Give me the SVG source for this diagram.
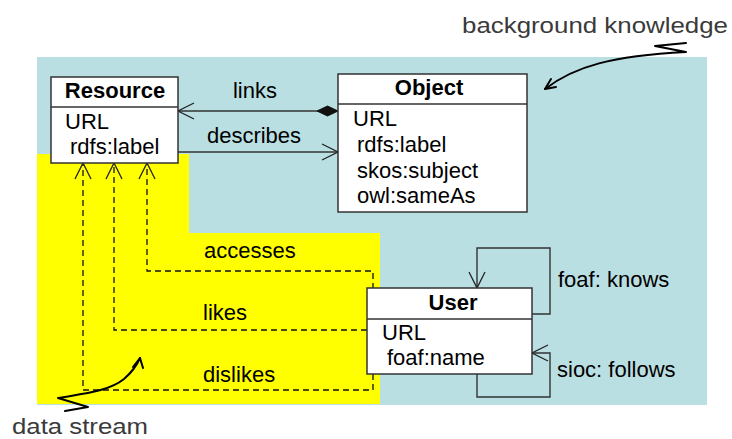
<svg xmlns="http://www.w3.org/2000/svg" width="732" height="439" viewBox="0 0 732 439">
<style>
text{font-family:"Liberation Sans",Arial,sans-serif;font-size:22px;fill:#000}
.b{font-weight:bold}
.note{fill:#3a3a3a;font-size:22px}
.box{fill:#fff;stroke:#333;stroke-width:1.5}
.conn{fill:none;stroke:#333;stroke-width:1.4}
.dash{fill:none;stroke:#111;stroke-width:1.3;stroke-dasharray:6,4}
.sq{fill:none;stroke:#000;stroke-width:2;stroke-linecap:round;stroke-linejoin:round}
</style>
<defs>
<marker id="arr" markerUnits="userSpaceOnUse" markerWidth="18" markerHeight="18" refX="16" refY="8" orient="auto" overflow="visible">
<path d="M0,0 L16,8 L0,16" fill="none" stroke="#222" stroke-width="1.3" stroke-dasharray="none"/>
</marker>
<marker id="dia" markerUnits="userSpaceOnUse" markerWidth="22" markerHeight="12" refX="0" refY="5" orient="auto" overflow="visible">
<path d="M0,5 L10.5,0 L21,5 L10.5,10 Z" fill="#111" stroke="#111" stroke-width="1"/>
</marker>
</defs>
<rect x="37" y="57" width="670" height="348" fill="#BADFE2"/>
<path d="M37,154 H189 V233 H380 V404 H37 Z" fill="#FFFF00"/>
<g id="connectors">
<path class="conn" d="M338,111 H178" marker-start="url(#dia)" marker-end="url(#arr)"/>
<path class="conn" d="M178,152 H338" marker-end="url(#arr)"/>
<path class="dash" d="M373,289 V271 H147 V163" marker-end="url(#arr)"/>
<path class="dash" d="M367,330 H114 V163" marker-end="url(#arr)"/>
<path class="dash" d="M373,374 V390 H83 V163" marker-end="url(#arr)"/>
<path class="conn" d="M532,314 H550 V248 H477 V288" marker-end="url(#arr)"/>
<path class="conn" d="M477,374 V397 H550 V353 H532" marker-end="url(#arr)"/>
<text x="255" y="98" text-anchor="middle">links</text>
<text x="254" y="143" text-anchor="middle">describes</text>
<text x="204" y="258">accesses</text>
<text x="203" y="320">likes</text>
<text x="203" y="382">dislikes</text>
<text x="558" y="287">foaf: knows</text>
<text x="557" y="377">sioc: follows</text>
</g>
<g id="resource">
<rect class="box" x="51" y="77" width="127" height="86"/>
<line x1="51" y1="107" x2="178" y2="107" stroke="#333" stroke-width="1.5"/>
<text class="b" x="115" y="98" text-anchor="middle">Resource</text>
<text x="65" y="129">URL</text>
<text x="70" y="154">rdfs:label</text>
</g>
<g id="object">
<rect class="box" x="338" y="74" width="189" height="138"/>
<line x1="338" y1="104" x2="527" y2="104" stroke="#333" stroke-width="1.5"/>
<text class="b" x="429" y="95" text-anchor="middle">Object</text>
<text x="353" y="126">URL</text>
<text x="357" y="152">rdfs:label</text>
<text x="357" y="178">skos:subject</text>
<text x="357" y="203">owl:sameAs</text>
</g>
<g id="user">
<rect class="box" x="367" y="288" width="165" height="86"/>
<line x1="367" y1="319" x2="532" y2="319" stroke="#333" stroke-width="1.5"/>
<text class="b" x="453" y="310" text-anchor="middle">User</text>
<text x="382" y="340">URL</text>
<text x="387" y="365">foaf:name</text>
</g>
<g id="background-knowledge">
<text class="note" x="462" y="33" textLength="266" lengthAdjust="spacingAndGlyphs">background knowledge</text>
<path class="sq" d="M545,89 C575,66 612,56 686,52 L655,46 L686,43"/>
<path class="sq" d="M551,79 L545,89 L556,87"/>
</g>
<g id="data-stream">
<text class="note" x="12" y="434" textLength="136" lengthAdjust="spacingAndGlyphs">data stream</text>
<path class="sq" d="M65,411 L88,407 L58,398 C80,394 108,392 124,379 C132,372 137,365 140,358"/>
<path class="sq" d="M133,367 L140,358 L143,368"/>
</g>
</svg>
